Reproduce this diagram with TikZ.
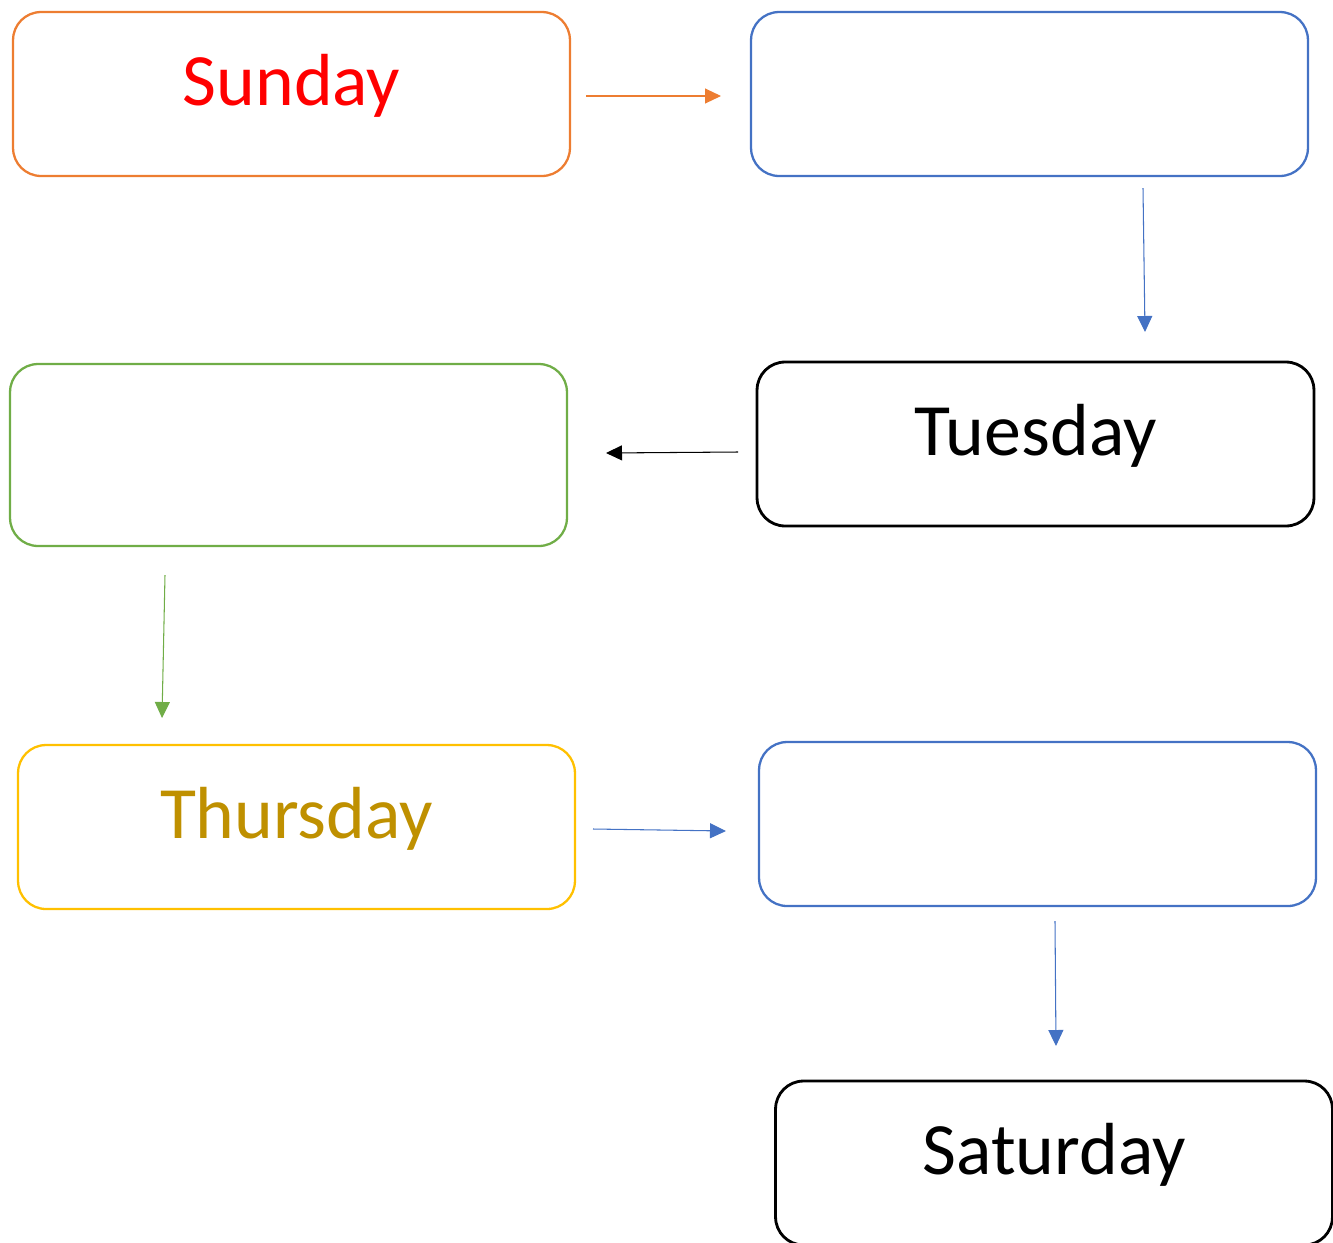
\documentclass[tikz,border=0pt]{standalone}
\usepackage{fontspec}
\setmainfont{Carlito}
\definecolor{dayorange}{HTML}{ED7D31}
\definecolor{dayblue}{HTML}{4472C4}
\definecolor{daygreen}{HTML}{70AD47}
\definecolor{dayyellow}{HTML}{FFC000}
\definecolor{daygold}{HTML}{BF9000}
\definecolor{dayred}{HTML}{FF0000}
\usetikzlibrary{arrows.meta}
\tikzset{
  daybox/.style={draw=#1, line width=1.3pt, rounded corners=0.56cm,
    minimum width=11.14cm, minimum height=3.28cm, inner sep=0pt,
    text height=0.9cm, text depth=0.46cm, font=\fontsize{42}{50}\selectfont},
  dayarrow/.style={draw=#1, line width=0.6pt, -{Triangle[length=0.32cm,width=0.3cm]}}
}

\begin{document}
\begin{tikzpicture}[x=0.02cm, y=-0.02cm]
  \useasboundingbox (0,0) rectangle (1333,1242);
  % Top row
  \node[daybox=dayorange, text=dayred] (sun) at (291.5,94) {Sunday};
  \node[daybox=dayblue] (mon) at (1029.5,94) {};
  % Second row
  \node[daybox=black, line width=1.6pt] (tue) at (1035.5,444) {Tuesday};
  \node[daybox=daygreen, minimum height=3.64cm] (wed) at (288.5,455) {};
  % Third row
  \node[daybox=dayyellow, text=daygold] (thu) at (296.5,827) {Thursday};
  \node[daybox=dayblue] (fri) at (1037.5,824) {};
  % Last box
  \node[daybox=black, line width=1.6pt] (sat) at (1054,1163) {Saturday};
  % Arrow ends
  \coordinate (sunOut) at (586,96);   \coordinate (monIn) at (721,96);
  \coordinate (monOut) at (1143,188); \coordinate (tueIn) at (1145,332);
  \coordinate (tueOut) at (738,452);  \coordinate (wedIn) at (606,453);
  \coordinate (wedOut) at (165,575);  \coordinate (thuIn) at (162,718);
  \coordinate (thuOut) at (593,829);  \coordinate (friIn) at (726,831);
  \coordinate (friOut) at (1055,921); \coordinate (satIn) at (1056,1046);
  % Arrows
  \draw[dayarrow=dayorange] (sunOut) -- (monIn);
  \draw[dayarrow=dayblue] (monOut) -- (tueIn);
  \draw[dayarrow=black] (tueOut) -- (wedIn);
  \draw[dayarrow=daygreen] (wedOut) -- (thuIn);
  \draw[dayarrow=dayblue] (thuOut) -- (friIn);
  \draw[dayarrow=dayblue] (friOut) -- (satIn);
\end{tikzpicture}
\end{document}
